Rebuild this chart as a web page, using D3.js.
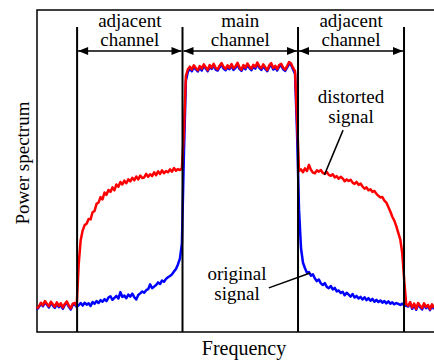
<!DOCTYPE html>
<html>
<head>
<meta charset="utf-8">
<script src="https://cdn.jsdelivr.net/npm/d3@7/dist/d3.min.js"></script>
<style>
  html, body { margin: 0; padding: 0; background: #fff; }
  svg { display: block; }
  svg text { font-family: "Liberation Serif", "Times New Roman", Tinos, "DejaVu Serif", serif; }
</style>
</head>
<body>
<div id="chart"></div>
<script>
// frequency bins (arbitrary units, 0..100 in steps of 0.5)
const freq = d3.range(0, 100.5, 0.5);

// channel boundaries on the frequency axis
const channelEdges = [10.1, 36.65, 65.75, 92.45];
const channelLabels = [["adjacent", "channel"], ["main", "channel"], ["adjacent", "channel"]];

// power spectrum of the distorted signal (red)
const distorted = [
  7.2, 8.0, 9.1, 8.3, 9.6, 8.8, 8.0, 9.4, 8.6, 7.9, 9.2, 8.1, 8.9, 7.6, 8.7, 9.5, 8.2, 7.4, 8.8, 9.0, 8.1,
  21.0, 28.5, 31.5, 33.2, 33.6, 35.1, 35.0, 37.2, 37.6, 39.8, 40.2, 41.9, 41.2, 43.3, 42.6, 44.1, 43.5, 44.9, 44.0, 45.8, 45.1, 46.6, 45.8, 47.0,
  46.2, 47.4, 46.8, 47.9, 47.1, 48.3, 47.4, 48.6, 47.8, 48.0, 49.1, 48.2, 49.0, 48.4, 49.6, 48.7, 49.9, 49.1, 50.2, 49.3, 50.0, 49.6, 50.5, 49.8, 50.9, 50.1, 50.6, 50.3, 50.9,
  62.0, 79.5,
  81.6, 82.4, 81.5, 82.8, 82.0, 81.3, 82.6, 81.8, 83.1, 82.2,
  81.4, 82.9, 82.1, 83.3, 82.0, 81.6, 82.7, 83.5, 82.3, 81.7,
  82.8, 82.0, 83.2, 81.9, 82.5, 83.6, 82.2, 81.5, 82.9, 82.1,
  83.4, 82.4, 81.8, 83.0, 82.3, 83.7, 82.5, 81.9, 83.1, 82.2,
  81.4, 82.8, 83.5, 82.0, 82.7, 81.6, 82.9, 83.3, 82.1, 81.5,
  82.6, 83.8, 83.4, 82.0, 81.0,
  66.0,
  50.0, 50.5, 49.6, 50.8, 50.0, 51.9, 50.4, 49.5, 49.3, 50.2,
  49.8, 50.3, 49.4, 49.1, 49.7, 48.8, 48.5, 49.0, 48.0, 48.4,
  47.6, 48.2, 47.7, 46.8, 47.4, 46.9, 47.3, 46.4, 46.0, 46.6,
  45.7, 46.1, 45.2, 44.5, 44.9, 44.0, 44.3, 43.5, 43.8, 42.9,
  42.3, 41.8, 41.9, 40.8, 40.2, 38.8, 37.4, 35.8, 34.6, 32.9,
  30.8, 28.8, 24.5, 16.0, 8.6,
  8.2, 9.3, 7.6, 8.8, 7.2, 9.0, 8.1, 7.4, 8.9, 7.8, 8.4, 7.1, 8.6, 7.5
];

// power spectrum of the original signal (blue)
const original = [
  7.0, 7.8, 8.7, 8.0, 9.2, 8.5, 7.6, 9.0, 8.2, 7.5, 8.8, 7.7, 8.5, 7.2, 8.4, 9.1, 7.9, 7.0, 8.4, 8.6, 7.8,
  8.3, 9.0, 8.2, 9.1, 8.5, 8.9, 8.1, 9.3, 8.8, 9.6,
  9.0, 9.9, 9.4, 10.2, 9.6, 10.7, 11.1, 10.0, 10.6, 11.2,
  10.4, 12.4, 10.9, 11.3, 10.5, 11.6, 11.0, 11.9, 10.8, 10.1,
  11.5, 12.0, 12.6, 12.2, 13.0, 13.3, 14.8, 13.6, 14.1, 14.6,
  15.4, 14.9, 16.0, 15.6, 16.5, 17.0, 17.4, 17.9, 18.8, 19.6,
  21.0, 22.8, 27.5,
  55.0, 78.0,
  80.8, 81.9, 81.0, 82.2, 81.6, 80.9, 82.1, 81.2, 82.6, 81.8,
  81.0, 82.3, 81.7, 82.8, 81.5, 81.2, 82.2, 83.0, 81.8, 81.3,
  82.2, 81.6, 82.7, 81.4, 82.0, 83.1, 81.7, 81.1, 82.4, 81.6,
  82.9, 82.0, 81.3, 82.5, 81.8, 83.2, 82.0, 81.4, 82.6, 81.7,
  81.0, 82.3, 83.0, 81.5, 82.2, 81.2, 82.4, 82.8, 81.6, 81.1,
  82.1, 83.3, 82.9, 81.5, 80.2,
  62.0,
  38.0, 26.0, 21.5, 19.8, 18.4, 18.6, 17.5, 17.9, 16.6, 15.8,
  16.3, 15.1, 14.6, 15.2, 14.0, 13.6, 14.3, 13.2, 13.7, 12.6,
  12.9, 12.1, 12.5, 11.4, 12.2, 11.6, 11.0, 11.8, 10.7, 11.2,
  10.4, 10.9, 10.1, 10.8, 9.9, 10.5, 9.7, 10.3, 9.4, 10.0,
  9.3, 9.8, 9.1, 9.6, 8.9, 9.5, 8.8, 9.2, 8.6, 9.0,
  8.7, 8.4, 8.8, 8.3, 8.1,
  7.9, 8.9, 7.2, 8.4, 6.9, 8.6, 7.7, 7.0, 8.5, 7.4, 8.0, 6.8, 8.2, 7.1
];

const width = 434, height = 363;
const margin = { top: 10, right: 0, bottom: 31, left: 37 };
const serif = '"Liberation Serif", "Times New Roman", Tinos, "DejaVu Serif", serif';

const svg = d3.select('#chart').append('svg')
  .attr('width', width)
  .attr('height', height);

const x = d3.scaleLinear().domain([0, 100]).range([margin.left, width]);
const y = d3.scaleLinear().domain([0, 100]).range([height - margin.bottom, margin.top]);

// frame (right side runs off the picture)
svg.append('rect')
  .attr('x', margin.left)
  .attr('y', margin.top)
  .attr('width', width - margin.left + 5)
  .attr('height', height - margin.bottom - margin.top)
  .attr('fill', 'none')
  .attr('stroke', '#000')
  .attr('stroke-width', 1.5);

const line = d3.line()
  .x((d, i) => x(freq[i]))
  .y(d => y(d));

svg.append('path')
  .datum(original)
  .attr('fill', 'none')
  .attr('stroke', '#0000ff')
  .attr('stroke-width', 2.5)
  .attr('stroke-linejoin', 'round')
  .attr('d', line);

svg.append('path')
  .datum(distorted)
  .attr('fill', 'none')
  .attr('stroke', '#ff0000')
  .attr('stroke-width', 2.5)
  .attr('stroke-linejoin', 'round')
  .attr('d', line);

// channel boundary lines
const lineTop = 27;
svg.selectAll('.edge')
  .data(channelEdges)
  .enter().append('line')
  .attr('x1', d => x(d)).attr('x2', d => x(d))
  .attr('y1', lineTop).attr('y2', y(0))
  .attr('stroke', '#000')
  .attr('stroke-width', 2);

function label(txt, cx, cy, size) {
  return svg.append('text')
    .attr('text-anchor', 'middle')
    .attr('font-family', serif)
    .attr('font-size', size)
    .attr('fill', '#000')
    .attr('x', cx).attr('y', cy)
    .text(txt);
}

// double arrows between boundaries
const arrowY = 51, headLen = 10, headHalf = 4;
const spans = d3.pairs(channelEdges);
spans.forEach(([a, b], i) => {
  const x1 = x(a) + 1, x2 = x(b) - 1;
  svg.append('line')
    .attr('x1', x1).attr('x2', x2)
    .attr('y1', arrowY).attr('y2', arrowY)
    .attr('stroke', '#000').attr('stroke-width', 1.5);
  svg.append('path')
    .attr('d', `M${x1},${arrowY} L${x1 + headLen},${arrowY - headHalf} L${x1 + headLen},${arrowY + headHalf} Z`)
    .attr('fill', '#000');
  svg.append('path')
    .attr('d', `M${x2},${arrowY} L${x2 - headLen},${arrowY - headHalf} L${x2 - headLen},${arrowY + headHalf} Z`)
    .attr('fill', '#000');

  const cx = (x(a) + x(b)) / 2;
  label(channelLabels[i][0], cx, 27, 19);
  label(channelLabels[i][1], cx, 46, 19);
});

// axis titles
label('Frequency', 244, 355, 20);
label('Power spectrum', 0, 0, 19)
  .attr('transform', 'translate(29,163) rotate(-90)');

// annotations
const notes = [
  { lines: ['distorted', 'signal'], tx: 351, ty: 103, from: [77.1, 62.7], to: [72.4, 48.8] },
  { lines: ['original', 'signal'], tx: 237, ty: 280, from: [58.4, 13.7], to: [68.8, 18.3] }
];
notes.forEach(n => {
  n.lines.forEach((s, k) => label(s, n.tx, n.ty + k * 19.5, 19));
  svg.append('line')
    .attr('x1', x(n.from[0])).attr('y1', y(n.from[1]))
    .attr('x2', x(n.to[0])).attr('y2', y(n.to[1]))
    .attr('stroke', '#000').attr('stroke-width', 1.5);
});
</script>
</body>
</html>
